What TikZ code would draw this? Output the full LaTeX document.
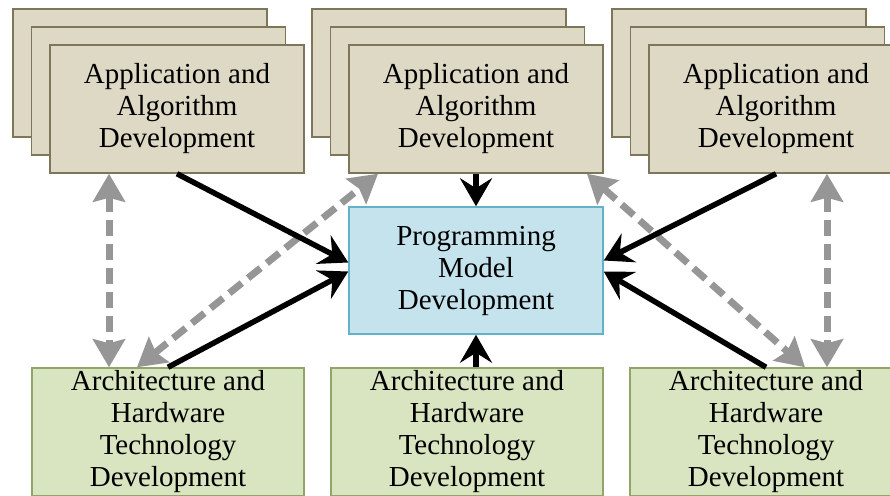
\documentclass[tikz,border=0pt]{standalone}
\usepackage{fontspec}
\setmainfont{Liberation Serif}
\usetikzlibrary{arrows.meta}

\definecolor{appfill}{RGB}{221,217,196}
\definecolor{appline}{RGB}{125,118,90}
\definecolor{progfill}{RGB}{196,227,236}
\definecolor{progline}{RGB}{100,178,200}
\definecolor{archfill}{RGB}{217,229,193}
\definecolor{archline}{RGB}{145,165,105}
\definecolor{linkgray}{RGB}{150,150,150}

\begin{document}
\begin{tikzpicture}[x=1pt,y=-1pt,
    appbox/.style={draw=appline, fill=appfill, line width=1.5pt, minimum width=254pt,
        minimum height=128pt, inner sep=0pt, align=center, font=\fontsize{29}{32}\selectfont},
    progbox/.style={appbox, draw=progline, fill=progfill, minimum height=127pt},
    archbox/.style={appbox, draw=archline, fill=archfill, minimum width=272pt},
    feed/.style={line width=5.5pt, -{Stealth[length=28pt,width=32pt,inset=10pt]}},
    link/.style={line width=7pt, linkgray, dash pattern=on 16pt off 8pt,
        {Stealth[length=28pt,width=32pt,inset=4pt]}-{Stealth[length=28pt,width=32pt,inset=4pt]}}]
    \useasboundingbox (0,0) rectangle (890,495);
    \clip (0,0) rectangle (890,495);

    % Stacks of application boxes
    \foreach \nm/\x in {L/177,M/476,R/776}{
        \node[appbox] (app\nm c) at (\x-37,73) {};
        \node[appbox] (app\nm b) at (\x-18.5,91) {};
        \node[appbox] (app\nm) at (\x,109) {Application and\\Algorithm\\Development};
    }

    % Programming model
    \node[progbox] (prog) at (476,270.5) {Programming\\Model\\Development};

    % Architecture boxes
    \node[archbox] (archL) at (168,432) {Architecture and\\Hardware\\Technology\\Development};
    \node[archbox] (archM) at (467,432) {Architecture and\\Hardware\\Technology\\Development};
    \node[archbox] (archR) at (766,432) {Architecture and\\Hardware\\Technology\\Development};

    % Dashed links
    \coordinate (gL) at ([xshift=-68pt]appL.south);
    \coordinate (gR) at ([xshift=51pt]appR.south);
    \draw[link] (gL) -- (gL |- archL.north);
    \draw[link] ([xshift=-31pt]archL.north) -- ([xshift=-98pt]appM.south);
    \draw[link] ([xshift=111pt]appM.south) -- ([xshift=39pt]archR.north);
    \draw[link] (gR) -- (gR |- archR.north);

    % Into the programming model
    \draw[feed] (appL.south) -- ([yshift=8pt]prog.west);
    \draw[feed] (appM.south) -- (prog.north);
    \draw[feed] (appR.south) -- ([yshift=10pt]prog.east);
    \draw[feed] (archL.north) -- ([yshift=-1pt]prog.west);
    \draw[feed] (archM.north -| prog.south) -- (prog.south);
    \draw[feed] (archR.north) -- ([yshift=-1pt]prog.east);
\end{tikzpicture}
\end{document}
